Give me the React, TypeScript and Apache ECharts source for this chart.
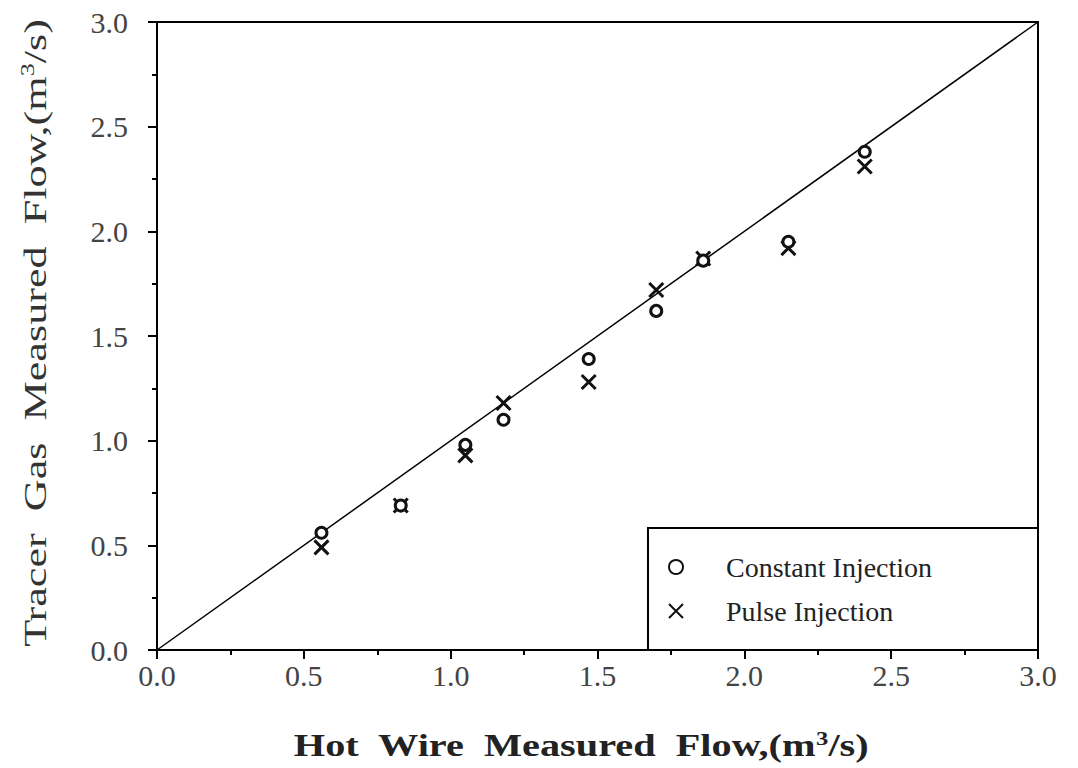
import React, { useEffect, useRef } from "react";
import * as echarts from "echarts";

const hotWire = [0.56, 0.83, 1.05, 1.18, 1.47, 1.70, 1.86, 2.15, 2.41];
const constantInj = [0.56, 0.69, 0.98, 1.10, 1.39, 1.62, 1.86, 1.95, 2.38];
const pulseInj = [0.49, 0.69, 0.93, 1.18, 1.28, 1.72, 1.87, 1.92, 2.31];
const identityLine = [[0, 0], [3, 3]];
const xTitle = "Hot  Wire  Measured  Flow,(m{sup|3}/s)";
const yTitle = "Tracer  Gas  Measured  Flow,(m{sup|3}/s)";

const SERIF = "'Liberation Serif', 'Times New Roman', serif";
const X_PATH = "path://M0,0L10,10M10,0L0,10";

export default function App() {
  const ref = useRef<HTMLDivElement>(null);
  useEffect(() => {
    if (!ref.current) return;
    const chart = echarts.init(ref.current, null, { renderer: "svg" });
    const axisCommon = {
      min: 0,
      max: 3,
      interval: 0.5,
      axisLine: { show: true, lineStyle: { color: "#000", width: 2 } },
      axisTick: { show: true, inside: false, length: 9, lineStyle: { color: "#000", width: 2 } },
      minorTick: { show: true, splitNumber: 2, length: 5, lineStyle: { color: "#000", width: 2 } },
      splitLine: { show: false },
      axisLabel: {
        color: "#444",
        fontFamily: SERIF,
        fontSize: 30,
        formatter: (v: number) => v.toFixed(1),
      },
    };
    chart.setOption({
      animation: false,
      backgroundColor: "#fff",
      grid: {
        left: 157,
        right: 40,
        top: 22,
        bottom: 118,
        show: true,
        borderColor: "#000",
        borderWidth: 2,
        backgroundColor: "transparent",
      },
      xAxis: {
        type: "value",
        ...axisCommon,
        axisLabel: { ...axisCommon.axisLabel, margin: 10 },
      },
      yAxis: {
        type: "value",
        ...axisCommon,
        axisLabel: { ...axisCommon.axisLabel, margin: 29 },
      },
      legend: {
        left: 663,
        top: 548,
        orient: "vertical",
        itemGap: 16,
        itemWidth: 14,
        itemHeight: 14,
        data: ["Constant Injection", "Pulse Injection"],
        textStyle: { fontFamily: SERIF, fontSize: 28, color: "#222", padding: [0, 0, 0, 38] },
      },
      graphic: [
        {
          type: "rect",
          shape: { x: 648, y: 528, width: 390, height: 122 },
          style: { fill: "transparent", stroke: "#000", lineWidth: 2 },
          z: 10,
        },
        {
          type: "text",
          x: 581,
          y: 746,
          scaleX: 1.3,
          style: {
            text: xTitle,
            fontFamily: SERIF,
            fontSize: 31,
            fontWeight: "bold",
            fill: "#222",
            textAlign: "center",
            textVerticalAlign: "middle",
            rich: {
              sup: { fontFamily: SERIF, fontSize: 19, fontWeight: "bold", fill: "#222", padding: [0, 0, 14, 0] },
            },
          },
        },
        {
          type: "text",
          x: 35,
          y: 333,
          rotation: Math.PI / 2,
          scaleX: 1.38,
          style: {
            text: yTitle,
            fontFamily: SERIF,
            fontSize: 32,
            fill: "#333",
            textAlign: "center",
            textVerticalAlign: "middle",
            rich: {
              sup: { fontFamily: SERIF, fontSize: 19, fill: "#333", padding: [0, 0, 14, 0] },
            },
          },
        },
      ],
      series: [
        {
          type: "line",
          data: identityLine,
          symbol: "none",
          lineStyle: { color: "#000", width: 1.5 },
          silent: true,
          z: 1,
        },
        {
          name: "Constant Injection",
          type: "scatter",
          data: hotWire.map((x, i) => [x, constantInj[i]]),
          symbol: "circle",
          symbolSize: 11,
          itemStyle: { color: "#fff", borderColor: "#111", borderWidth: 3, opacity: 1 },
          z: 3,
        },
        {
          name: "Pulse Injection",
          type: "scatter",
          data: hotWire.map((x, i) => [x, pulseInj[i]]),
          symbol: X_PATH,
          symbolSize: 14,
          itemStyle: { color: "#111", borderColor: "#111", borderWidth: 3, opacity: 1 },
          z: 2,
        },
      ],
    });
    return () => chart.dispose();
  }, []);
  return (
    <div
      ref={ref}
      style={{ position: "absolute", left: 0, top: 0, width: 1078, height: 768 }}
    />
  );
}
